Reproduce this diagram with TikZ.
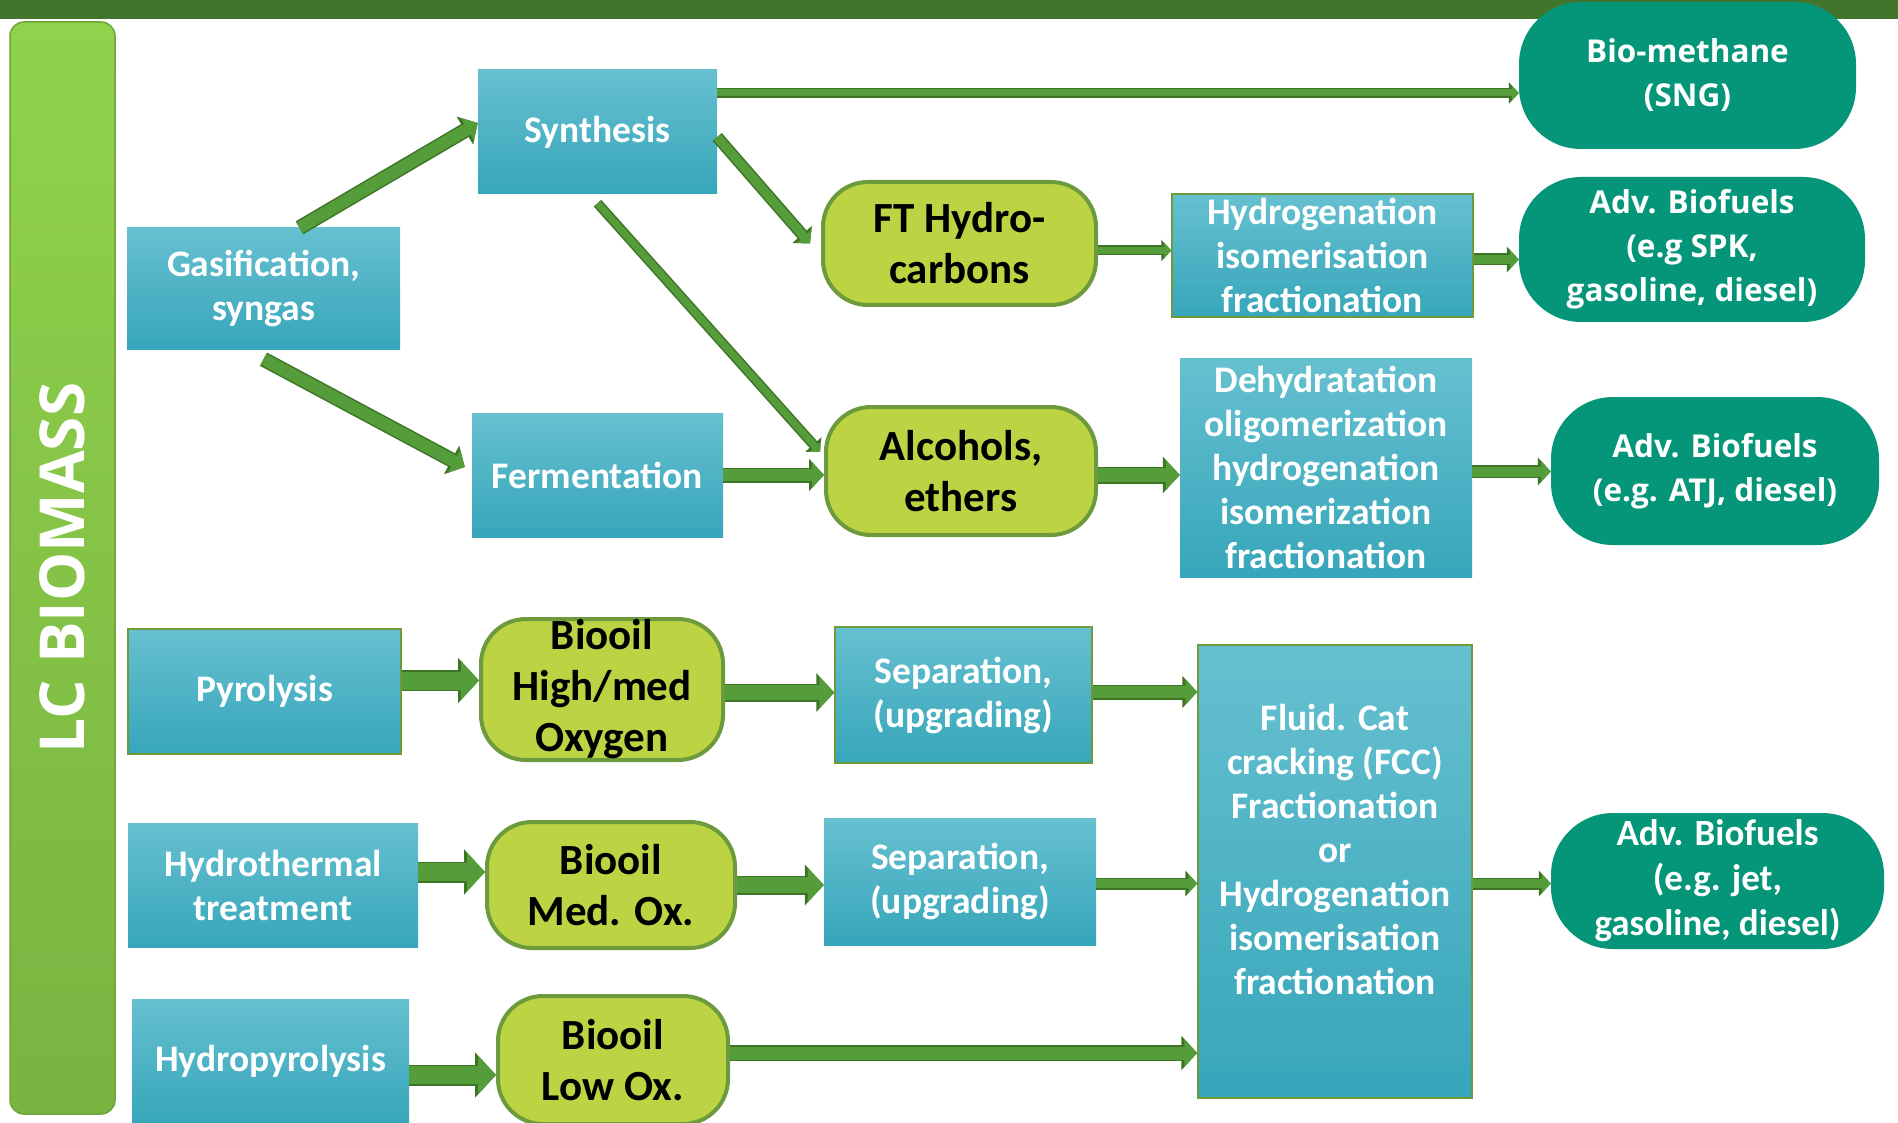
\documentclass[tikz,border=0pt]{standalone}
\usepackage{fontspec}
\setmainfont{Carlito}
\newfontfamily\opensans{Open Sans}
\usetikzlibrary{arrows.meta}

\definecolor{topbar}{HTML}{41752B}
\definecolor{lctop}{HTML}{90D24C}
\definecolor{lcbot}{HTML}{79B441}
\definecolor{lcedge}{HTML}{6FA43B}
\definecolor{boxtop}{HTML}{66C0D0}
\definecolor{boxbot}{HTML}{37A6BA}
\definecolor{boxedge}{HTML}{6E9A3C}
\definecolor{oilfill}{HTML}{BCD443}
\definecolor{oiledge}{HTML}{6C9A3D}
\definecolor{fuelfill}{HTML}{05967A}
\definecolor{arrowfill}{HTML}{559D3A}
\definecolor{arrowedge}{HTML}{3D7426}

\begin{document}
\begin{tikzpicture}[x=1pt,y=-1pt]
  \tikzstyle{box}=[rectangle, top color=boxtop, bottom color=boxbot, text=white, align=center,
    inner sep=0pt, font=\fontsize{37.5pt}{44pt}\selectfont\bfseries]
  \tikzstyle{oil}=[rectangle, rounded corners=45pt, fill=oilfill, draw=oiledge, line width=4pt,
    align=center, inner sep=0pt, font=\fontsize{43pt}{51pt}\selectfont\bfseries]
  \tikzstyle{fuel}=[rectangle, rounded corners=62pt, fill=fuelfill, text=white, align=center,
    inner sep=0pt, font=\opensans\fontsize{31.5pt}{44pt}\selectfont\bfseries]
  \tikzstyle{flow}=[line width=#1, draw=arrowfill, -{Triangle[length=0pt 1.0, width=0pt 2.1]},
    preaction={draw=arrowedge, line width=#1+3pt, -{Triangle[length=0pt 1.0, width=0pt 2.1]}}]

  \useasboundingbox (0,0) rectangle (1898,1123);
  \fill[white] (0,0) rectangle (1898,1123);
  \fill[topbar] (0,0) rectangle (1898,19);

  \node[rectangle, rotate=90, minimum width=1092pt, minimum height=105pt, rounded corners=14pt,
    top color=lctop, bottom color=lcbot, draw=lcedge, line width=1.5pt, text=white,
    font=\opensans\fontsize{62pt}{70pt}\selectfont\bfseries] (lcb) at (62.5,568) {LC BIOMASS};

  % process steps
  \node[box, minimum width=273pt, minimum height=121pt] (gasif) at (263.5,288.5) {Gasification,\\syngas};
  \node[box, minimum width=239pt, minimum height=124pt] (synth) at (597.5,132) {Synthesis};
  \node[box, minimum width=251pt, minimum height=124pt] (ferm) at (597.5,475) {Fermentation};
  \node[box, draw=boxedge, line width=1.5pt, minimum width=273pt, minimum height=125pt] (pyro) at (264.5,691.5) {Pyrolysis};
  \node[box, minimum width=290pt, minimum height=124pt] (hydrot) at (273,885) {Hydrothermal\\treatment};
  \node[box, minimum width=277pt, minimum height=124pt] (hydrop) at (270.5,1061) {Hydropyrolysis};

  % intermediates
  \node[oil, minimum width=273pt, minimum height=123pt] (ft) at (959.5,243.5) {FT Hydro-\\carbons};
  \node[oil, minimum width=270pt, minimum height=128pt] (alc) at (961,471) {Alcohols,\\ethers};
  \node[oil, minimum width=242pt, minimum height=141pt] (bhigh) at (602,689.5) {Biooil\\High/med\\Oxygen};
  \node[oil, minimum width=248pt, minimum height=126pt] (bmed) at (611,885) {Biooil\\Med. Ox.};
  \node[oil, minimum width=230pt, minimum height=128pt] (blow) at (613,1060) {Biooil\\Low Ox.};

  % upgrading
  \node[box, draw=boxedge, line width=1.5pt, minimum width=301pt, minimum height=123pt] (hydrog) at (1322.5,255.5) {Hydrogenation\\isomerisation\\fractionation};
  \node[box, minimum width=292pt, minimum height=219pt] (dehyd) at (1326,467.5) {Dehydratation\\oligomerization\\hydrogenation\\isomerization\\fractionation};
  \node[box, draw=boxedge, line width=1.5pt, minimum width=257pt, minimum height=136pt] (sep1) at (963.5,695) {Separation,\\(upgrading)};
  \node[box, minimum width=272pt, minimum height=127pt] (sep2) at (960,881.5) {Separation,\\(upgrading)};
  \node[box, draw=boxedge, line width=1.5pt, minimum width=274pt, minimum height=453pt] (fcc) at (1335,871.5) {Fluid. Cat\\cracking (FCC)\\Fractionation\\or\\Hydrogenation\\isomerisation\\fractionation\\\mbox{}};

  % fuels
  \node[fuel, minimum width=337pt, minimum height=147pt] (sng) at (1687.5,75.5) {Bio-methane\\(SNG)};
  \node[fuel, minimum width=346pt, minimum height=145pt] (advspk) at (1692,249.5) {Adv. Biofuels\\(e.g SPK,\\gasoline, diesel)};
  \node[fuel, minimum width=328pt, minimum height=148pt] (advatj) at (1715,471) {Adv. Biofuels\\(e.g. ATJ, diesel)};
  \node[fuel, font=\fontsize{37pt}{45pt}\selectfont\bfseries, minimum width=333pt, minimum height=136pt] (advjet) at (1717.5,881) {Adv. Biofuels\\(e.g. jet,\\gasoline, diesel)};

  % arrows
  \draw[flow=12pt] ([xshift=36pt]gasif.north) -- ([yshift=9pt]synth.west);
  \draw[flow=12pt] ([yshift=-10pt]gasif.south) -- ([xshift=-7pt,yshift=8pt]ferm.west);
  \draw[flow=7pt] ([yshift=39pt]synth.east) -- ([yshift=39pt]synth.east -| sng.west);
  \draw[flow=9pt] ([yshift=-5pt]synth.east) -- ([xshift=-11pt]ft.west);
  \draw[flow=7pt] ([yshift=-9pt]synth.south) -- ([xshift=-4pt,yshift=19pt]alc.west);
  \draw[flow=12pt] (ferm.east) -- (ferm.east -| alc.west);
  \draw[flow=7pt] ([yshift=-7pt]ft.east) -- ([yshift=-7pt]ft.east -| hydrog.west);
  \draw[flow=9pt] ([yshift=-4pt]hydrog.east) -- ([yshift=-4pt]hydrog.east -| advspk.west);
  \draw[flow=14pt] ([yshift=-4pt]alc.east) -- ([yshift=-4pt]alc.east -| dehyd.west);
  \draw[flow=10pt] ([yshift=-4pt]dehyd.east) -- ([yshift=-4pt]dehyd.east -| advatj.west);
  \draw[flow=18pt] ([yshift=11pt]pyro.east) -- ([yshift=11pt]pyro.east -| bhigh.west);
  \draw[flow=15pt] ([yshift=-3pt]bhigh.east) -- ([yshift=-3pt]bhigh.east -| sep1.west);
  \draw[flow=12pt] ([yshift=3pt]sep1.east) -- ([yshift=3pt]sep1.east -| fcc.west);
  \draw[flow=18pt] ([yshift=13pt]hydrot.east) -- ([yshift=13pt]hydrot.east -| bmed.west);
  \draw[flow=16pt] (bmed.east) -- (bmed.east -| sep2.west);
  \draw[flow=9pt] ([yshift=-2pt]sep2.east) -- ([yshift=-2pt]sep2.east -| fcc.west);
  \draw[flow=18pt] ([yshift=-14pt]hydrop.east) -- ([yshift=-14pt]hydrop.east -| blow.west);
  \draw[flow=13pt] ([yshift=7pt]blow.east) -- ([yshift=7pt]blow.east -| fcc.west);
  \draw[flow=9pt] ([yshift=-12pt]fcc.east) -- ([yshift=-12pt]fcc.east -| advjet.west);
\end{tikzpicture}
\end{document}
